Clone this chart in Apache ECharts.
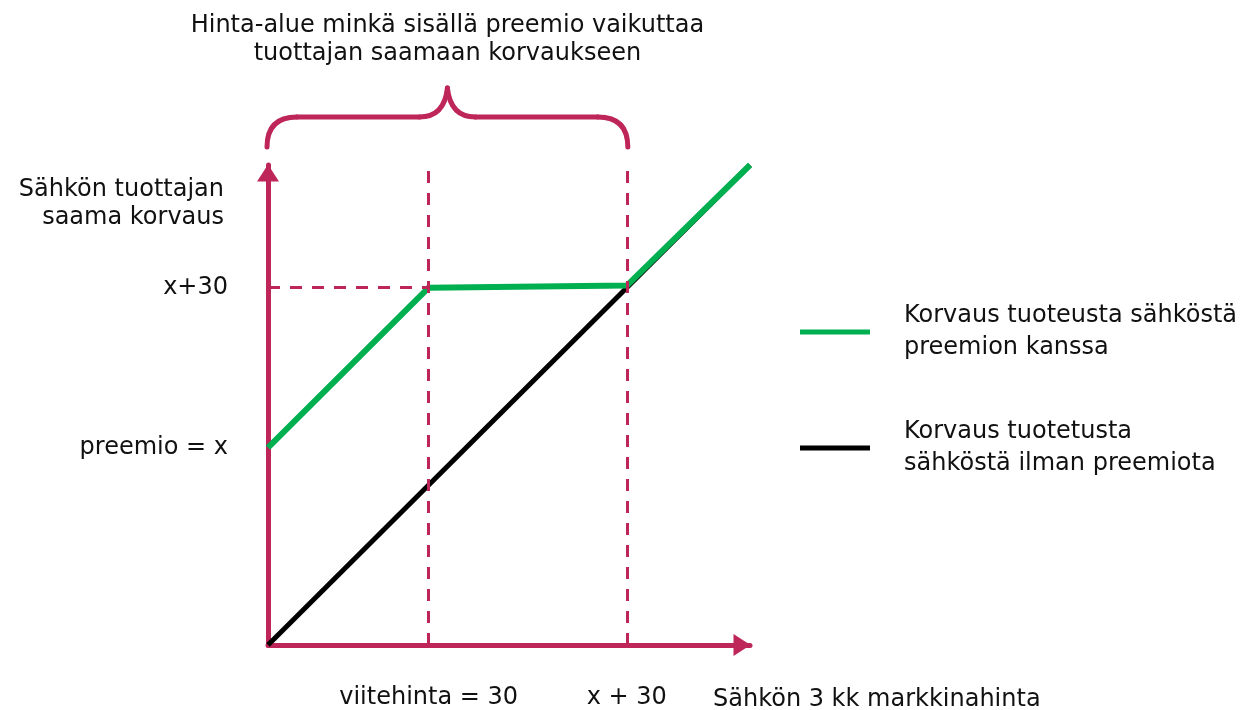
<!DOCTYPE html>
<html>
<head>
<meta charset="utf-8">
<script src="https://cdn.jsdelivr.net/npm/echarts@6/dist/echarts.min.js"></script>
<style>
  html, body { margin: 0; background: #fff; }
  #chart { width: 1260px; height: 710px; }
</style>
</head>
<body>
<div id="chart"></div>
<script>
// values (same unit on both axes)
var axisMax = 90;
var refPrice = 30;      // viitehinta
var upperPrice = 67;    // x + 30
var withPremium = [[0, 37], [30, 67], [67, 67.4], [90, 90]];
var withoutPremium = [[0, 0], [90, 90]];
var xTickValues = [30, 67];
var xTickLabels = ['viitehinta = 30', 'x + 30'];
var yTickValues = [37, 67];
var yTickLabels = ['preemio = x', 'x+30'];
var seriesNames = ['Korvaus tuoteusta sähköstä\npreemion kanssa', 'Korvaus tuotetusta\nsähköstä ilman preemiota'];
var titleText = 'Hinta-alue minkä sisällä preemio vaikuttaa\ntuottajan saamaan korvaukseen';
var yName = 'Sähkön tuottajan\nsaama korvaus';
var xName = 'Sähkön 3 kk markkinahinta';

var crimson = '#be2558';
var green = '#00b050';
var font = 'DejaVu Sans';

var chart = echarts.init(document.getElementById('chart'));

var dashed = { color: crimson, width: 3, type: [12, 10] };
var axisLine = {
  lineStyle: { color: crimson, width: 5 },
  symbol: ['none', 'triangle'], symbolSize: [22, 17], symbolOffset: [0, -8]
};
function legendBox(name, top) {
  return {
    data: [name], orient: 'vertical', left: 795, top: top,
    icon: 'rect', itemWidth: 70, itemHeight: 5,
    textStyle: { fontFamily: font, fontSize: 24, lineHeight: 32, color: '#111', padding: [0, 0, 0, 29] }
  };
}

chart.setOption({
  animation: false,
  grid: { left: 268, top: 165, right: 510, bottom: 62 },
  xAxis: {
    type: 'value', min: 0, max: axisMax,
    axisLine: axisLine,
    axisTick: { show: false },
    splitLine: { show: false },
    axisLabel: {
      customValues: xTickValues, margin: 41,
      fontFamily: font, fontSize: 24, color: '#111',
      formatter: function (v) { return xTickLabels[xTickValues.indexOf(v)]; }
    }
  },
  yAxis: {
    type: 'value', min: 0, max: axisMax,
    axisLine: axisLine,
    axisTick: { show: false },
    splitLine: { show: false },
    axisLabel: {
      customValues: yTickValues, margin: 40,
      fontFamily: font, fontSize: 24, color: '#111',
      formatter: function (v) { return yTickLabels[yTickValues.indexOf(v)]; }
    }
  },
  legend: [
    legendBox(seriesNames[0], 295),
    legendBox(seriesNames[1], 411)
  ],
  series: [
    {
      name: seriesNames[1], type: 'line', data: withoutPremium,
      symbol: 'none', color: '#000',
      lineStyle: { color: '#000', width: 5 },
      markLine: {
        silent: true, symbol: 'none', label: { show: false },
        lineStyle: dashed,
        data: [
          [{ coord: [refPrice, 0] }, { coord: [refPrice, axisMax] }],
          [{ coord: [upperPrice, 0] }, { coord: [upperPrice, axisMax] }],
          [{ coord: [0, upperPrice] }, { coord: [refPrice, upperPrice] }]
        ]
      }
    },
    {
      name: seriesNames[0], type: 'line', data: withPremium,
      symbol: 'none', color: green,
      lineStyle: { color: green, width: 6 }
    }
  ]
});

// brace over the price range and free text placed from the axis scale
var p0 = chart.convertToPixel({ gridIndex: 0 }, [0, axisMax]);
var p1 = chart.convertToPixel({ gridIndex: 0 }, [upperPrice, axisMax]);
var xa = p0[0] - 1, xb = p1[0] + 1, xm = (xa + xb) / 2;
var yEnd = 147, yBar = 117, yTop = 88;
var braceStyle = { fill: 'none', stroke: crimson, lineWidth: 5, lineCap: 'round' };
function curve(x1, y1, cx, cy, x2, y2) {
  return { type: 'bezierCurve', silent: true, shape: { x1: x1, y1: y1, cpx1: cx, cpy1: cy, x2: x2, y2: y2 }, style: braceStyle };
}
function seg(x1, y1, x2, y2) {
  return { type: 'line', silent: true, shape: { x1: x1, y1: y1, x2: x2, y2: y2 }, style: braceStyle };
}

chart.setOption({
  graphic: [
    curve(xa, yEnd, xa, yBar, xa + 30, yBar),
    seg(xa + 30, yBar, xm - 28, yBar),
    curve(xm - 28, yBar, xm - 3, yBar, xm, yTop),
    curve(xm, yTop, xm + 3, yBar, xm + 28, yBar),
    seg(xm + 28, yBar, xb - 30, yBar),
    curve(xb - 30, yBar, xb, yBar, xb, yEnd),
    { type: 'text', x: xm, y: 12, style: { text: titleText, font: '24px "DejaVu Sans"', lineHeight: 28, fill: '#111', align: 'center' } },
    { type: 'text', x: 224, y: 176, style: { text: yName, font: '24px "DejaVu Sans"', lineHeight: 28, fill: '#111', align: 'right' } },
    { type: 'text', x: 713, y: 686, style: { text: xName, font: '24px "DejaVu Sans"', lineHeight: 28, fill: '#111', align: 'left' } }
  ]
});
</script>
</body>
</html>
